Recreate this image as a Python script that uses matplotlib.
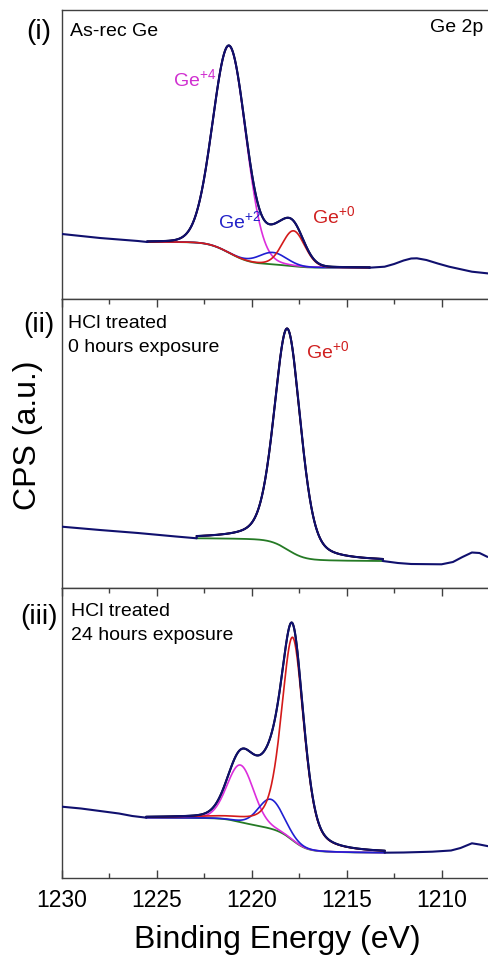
import numpy as np
import matplotlib
matplotlib.use('Agg')
import matplotlib.pyplot as plt

plt.rcParams['font.family'] = ['Liberation Sans', 'DejaVu Sans']
plt.rcParams['mathtext.fontset'] = 'custom'
plt.rcParams['mathtext.rm'] = 'Liberation Sans'
plt.rcParams['mathtext.it'] = 'Liberation Sans'

# ---------------- data ----------------
xticks = [1230, 1225, 1220, 1215, 1210]
xlim = (1230, 1207.6)

# panel (i) As-rec Ge
p1_left_be = [1230.0, 1229.0, 1228.0, 1227.0, 1226.0, 1225.5]
p1_left_cps = [65, 63, 61, 59.5, 58, 57]
p1_right_be = [1213.8, 1213.0, 1212.5, 1212.0, 1211.6, 1211.3, 1210.8, 1210.2, 1209.6, 1208.4, 1207.6]
p1_right_cps = [31.3, 32.3, 35, 38.5, 40.5, 40.7, 39, 35.5, 32.3, 27.3, 25.7]
p1_fit_range = (1225.5, 1213.8)
p1_bg_ends = (57, 31.3)
p1_names = ['Ge+4', 'Ge+2', 'Ge+0']
p1_centers = [1221.18, 1218.9, 1217.8]
p1_heights = [207, 12, 35.4]
p1_fwhm = [2.05, 1.7, 1.4]
p1_lor = [0.05, 0.1, 0.1]
p1_resid = (1218.7, 14, 1.5)   # unassigned intensity in the measured envelope

# panel (ii) HCl treated, 0 h
p2_left_be = [1230.0, 1228.0, 1226.0, 1224.0, 1222.9]
p2_left_cps = [61.3, 58, 55, 51.5, 49.7]
p2_right_be = [1213.1, 1212.3, 1211.6, 1210.0, 1209.4, 1208.9, 1208.4, 1208.0, 1207.6]
p2_right_cps = [27, 25, 24, 23.7, 26, 31, 35.5, 35, 31.3]
p2_fit_range = (1222.9, 1213.1)
p2_bg_ends = (49.7, 27)
p2_names = ['Ge+0']
p2_centers = [1218.12]
p2_heights = [221]
p2_fwhm = [1.65]
p2_lor = [0.35]
p2_resid = (1218.1, 0, 1.0)

# panel (iii) HCl treated, 24 h
p3_left_be = [1230.0, 1229.0, 1228.0, 1227.0, 1226.3, 1225.55]
p3_left_cps = [71.3, 69.5, 67, 64.5, 62, 60.3]
p3_right_be = [1213.0, 1212.0, 1211.0, 1210.5, 1209.5, 1209.0, 1208.4, 1208.0, 1207.6]
p3_right_cps = [25.3, 25.5, 26, 26.3, 27.5, 30, 34.7, 33.5, 32]
p3_fit_range = (1225.55, 1213.0)
p3_bg_ends = (60.3, 25.3)
p3_names = ['Ge+4', 'Ge+2', 'Ge+0']
p3_centers = [1220.6, 1218.99, 1217.84]
p3_heights = [57, 29.4, 203]
p3_fwhm = [1.65, 1.55, 1.4]
p3_lor = [0.1, 0.1, 0.45]
p3_resid = (1219.3, 18, 2.4)

comp_colors = {'Ge+4': '#dc2edc', 'Ge+2': '#1f1fd2', 'Ge+0': '#d41a1a'}
bg_color = '#257a25'
data_color = '#10106e'

# ---------------- helpers ----------------
def pseudo_voigt(x, c, h, w, m):
    g = np.exp(-4 * np.log(2) * ((x - c) / w) ** 2)
    l = 1.0 / (1 + 4 * ((x - c) / w) ** 2)
    return h * ((1 - m) * g + m * l)


def draw_panel(ax, left_be, left_cps, right_be, right_cps, fit_range, bg_ends,
               names, centers, heights, fwhm, lor, resid):
    hi, lo = fit_range
    x = np.linspace(lo, hi, 900)  # ascending BE
    comps = [pseudo_voigt(x, c, h, w, m) for c, h, w, m in zip(centers, heights, fwhm, lor)]
    total = np.sum(comps, axis=0)
    cum = np.concatenate([[0], np.cumsum((total[1:] + total[:-1]) / 2 * np.diff(x))])
    b_hi, b_lo = bg_ends
    bg = b_lo + (b_hi - b_lo) * cum / cum[-1]
    env = bg + total + pseudo_voigt(x, resid[0], resid[1], resid[2], 0.0)
    ax.plot(x, bg, color=bg_color, lw=1.3, zorder=2)
    for n, cp in zip(names, comps):
        ax.plot(x, bg + cp, color=comp_colors[n], lw=1.2, zorder=3)
    ax.plot(x, env, color='black', lw=1.4, zorder=4)
    xd = np.concatenate([left_be, x[::-1], right_be])
    yd = np.concatenate([left_cps, env[::-1], right_cps])
    ax.plot(xd, yd, color=data_color, lw=1.5, zorder=5)


W, H = 489, 960
fig = plt.figure(figsize=(W / 100, H / 100), dpi=100)

def fx(px):
    return px / W

def fy(py):
    return 1 - py / H

left = fx(62)
width = 1 - left
panels = [(10, 299), (299, 588), (588, 878)]
axes = []
for top, bot in panels:
    ax = fig.add_axes([left, fy(bot), width, (bot - top) / H])
    ax.set_xlim(*xlim)
    ax.set_ylim(0, bot - top)
    ax.set_yticks([])
    ax.spines['right'].set_visible(False)
    for s in ['left', 'top', 'bottom']:
        ax.spines[s].set_color('#404040')
        ax.spines[s].set_linewidth(1.0)
    ax.set_xticks(xticks)
    ax.set_xticks(np.arange(1227.5, 1207, -5), minor=True)
    axes.append(ax)

ax1, ax2, ax3 = axes
ax1.tick_params(axis='x', which='both', bottom=False, top=False, labelbottom=False)
ax2.tick_params(axis='x', which='both', bottom=False, top=True, direction='in', labelbottom=False)
ax3.tick_params(axis='x', which='both', bottom=True, top=True, direction='in',
                labelbottom=True, labelsize=16.5, pad=8, colors='#404040', labelcolor='black')
for ax in (ax2, ax3):
    ax.tick_params(axis='x', which='major', length=6, width=1.0, color='#404040')
    ax.tick_params(axis='x', which='minor', length=3.5, width=1.0, color='#404040')

draw_panel(ax1, p1_left_be, p1_left_cps, p1_right_be, p1_right_cps, p1_fit_range, p1_bg_ends,
           p1_names, p1_centers, p1_heights, p1_fwhm, p1_lor, p1_resid)
draw_panel(ax2, p2_left_be, p2_left_cps, p2_right_be, p2_right_cps, p2_fit_range, p2_bg_ends,
           p2_names, p2_centers, p2_heights, p2_fwhm, p2_lor, p2_resid)
draw_panel(ax3, p3_left_be, p3_left_cps, p3_right_be, p3_right_cps, p3_fit_range, p3_bg_ends,
           p3_names, p3_centers, p3_heights, p3_fwhm, p3_lor, p3_resid)

# ---------------- texts ----------------
fs = 14
fig.text(fx(39), fy(32), '(i)', fontsize=20, ha='center', va='center')
fig.text(fx(39), fy(325), '(ii)', fontsize=20, ha='center', va='center')
fig.text(fx(39), fy(617), '(iii)', fontsize=20, ha='center', va='center')

fig.text(fx(70), fy(31), 'As-rec Ge', fontsize=fs, ha='left', va='center')
fig.text(fx(483), fy(28), 'Ge 2p', fontsize=fs, ha='right', va='center')
fig.text(fx(68), fy(323), 'HCl treated', fontsize=fs, ha='left', va='center')
fig.text(fx(68), fy(347), '0 hours exposure', fontsize=fs, ha='left', va='center')
fig.text(fx(71), fy(612), 'HCl treated', fontsize=fs, ha='left', va='center')
fig.text(fx(71), fy(636), '24 hours exposure', fontsize=fs, ha='left', va='center')

fig.text(fx(173), fy(86.5), 'Ge$^{+4}$', fontsize=fs, color='#d030d0', ha='left', va='baseline')
fig.text(fx(218), fy(228), 'Ge$^{+2}$', fontsize=fs, color='#2222c8', ha='left', va='baseline')
fig.text(fx(312), fy(223), 'Ge$^{+0}$', fontsize=fs, color='#d02020', ha='left', va='baseline')
fig.text(fx(306), fy(358.5), 'Ge$^{+0}$', fontsize=fs, color='#d02020', ha='left', va='baseline')

fig.text(fx(28), fy(435), 'CPS (a.u.)', fontsize=23, rotation=90, ha='center', va='center')
fig.text(fx(277.5), fy(940), 'Binding Energy (eV)', fontsize=23, ha='center', va='center')

fig.savefig('out.png', dpi=100)
